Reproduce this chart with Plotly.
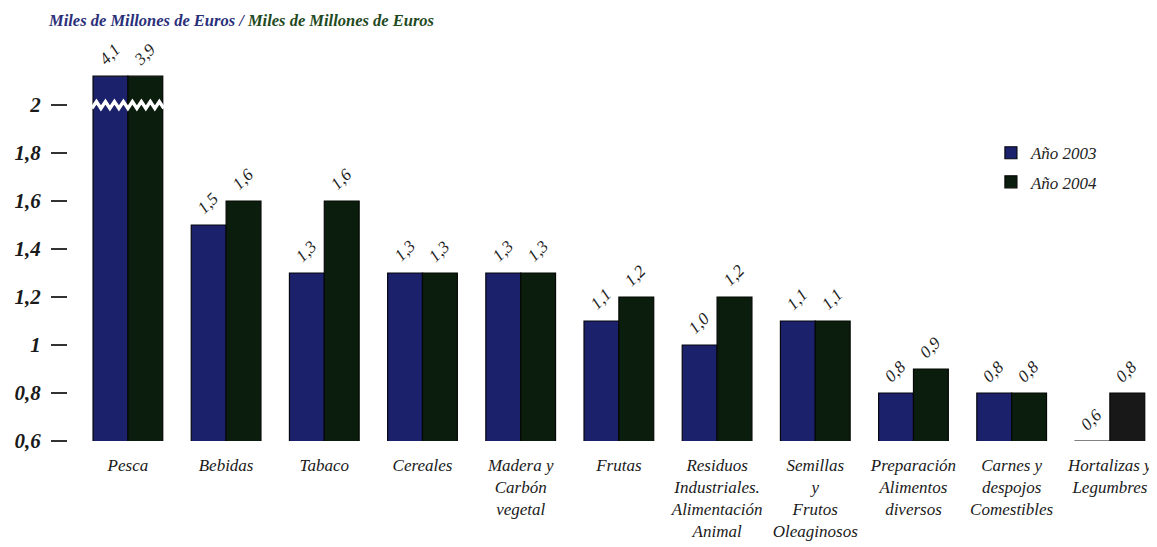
import numpy as np
import plotly.graph_objects as go

categories = ["Pesca", "Bebidas", "Tabaco", "Cereales", "Madera y<br>Carbón<br>vegetal", "Frutas",
              "Residuos<br>Industriales.<br>Alimentación<br>Animal", "Semillas<br>y<br>Frutos<br>Oleaginosos",
              "Preparación<br>Alimentos<br>diversos", "Carnes y<br>despojos<br>Comestibles", "Hortalizas y<br>Legumbres"]
values_2003 = [4.1, 1.5, 1.3, 1.3, 1.3, 1.1, 1.0, 1.1, 0.8, 0.8, 0.6]
values_2004 = [3.9, 1.6, 1.6, 1.3, 1.3, 1.2, 1.2, 1.1, 0.9, 0.8, 0.8]
tick_vals = [0.6, 0.8, 1.0, 1.2, 1.4, 1.6, 1.8, 2.0]
tick_text = ["0,6", "0,8", "1", "1,2", "1,4", "1,6", "1,8", "2"]

AXIS_CAP = 2.12   # values above this are drawn with a broken bar
Y_RANGE = [0.6, 2.15]
BAR_HALF = 0.178

FONT = "Liberation Serif"
C2003 = "#1b216a"
C2004 = "#0b1d0d"
C_HORT = "#181818"

x = np.arange(len(categories))
d03 = np.minimum(values_2003, AXIS_CAP)
d04 = np.minimum(values_2004, AXIS_CAP)

col04 = [C2004] * len(categories)
col04[-1] = C_HORT

fig = go.Figure()
fig.add_trace(go.Bar(x=x, y=d03, name="Año 2003", marker=dict(color=C2003, line=dict(color="#05060f", width=1.2)),
                     legendgroup="a"))
fig.add_trace(go.Bar(x=x, y=d04, name="Año 2004", marker=dict(color=col04, line=dict(color="#050805", width=1.2)),
                     legendgroup="b"))

# break marks on bars exceeding the cap
for i, (a, b) in enumerate(zip(values_2003, values_2004)):
    if a > AXIS_CAP or b > AXIS_CAP:
        n = 17
        zx = np.linspace(i - 2 * BAR_HALF - 0.01, i + 2 * BAR_HALF + 0.01, n)
        zy = 2.0 + np.where(np.arange(n) % 2 == 0, -0.014, 0.014)
        fig.add_trace(go.Scatter(x=zx, y=zy, mode="lines", line=dict(color="white", width=3.5),
                                 showlegend=False, hoverinfo="skip"))

# value labels
def fmt(v):
    return f"{v:.1f}".replace(".", ",")

for i in range(len(categories)):
    for off, v, dv in ((-BAR_HALF, values_2003[i], d03[i]), (BAR_HALF, values_2004[i], d04[i])):
        fig.add_annotation(x=i + off, y=dv, text=fmt(v), textangle=-45, showarrow=False,
                           yshift=22, xshift=-1,
                           font=dict(family=FONT, size=17, style="italic", color="#1e1e1e"))

# title
fig.add_annotation(xref="paper", yref="paper", x=-0.02, y=1.162, xanchor="left", yanchor="top",
                   showarrow=False,
                   text="<span style='color:#2b2f7a'>Miles de Millones de Euros /</span> "
                        "<span style='color:#1f4a1f'>Miles de Millones de Euros</span>",
                   font=dict(family=FONT, size=16.5, style="italic", weight="bold"))

# page body has an 8px margin: size figure so the plot lands where the reference has it
fig.update_layout(
    width=1149, height=539,
    margin=dict(l=60, r=0, t=61, b=106, autoexpand=False),
    paper_bgcolor="white", plot_bgcolor="white",
    barmode="group", bargap=0.29, bargroupgap=0,
    showlegend=True,
    legend=dict(x=0.8475, y=0.822, xanchor="left", yanchor="top", tracegroupgap=4,
                font=dict(family=FONT, size=17, style="italic", color="#222222"),
                bgcolor="rgba(0,0,0,0)"),
    font=dict(family=FONT, color="#222222"),
)
fig.update_xaxes(range=[-0.61, 10.48], tickmode="array", tickvals=x, ticktext=categories,
                 showgrid=False, zeroline=False, showline=False, ticks="", automargin=False,
                 ticklabelstandoff=12,
                 tickfont=dict(family=FONT, size=17, style="italic", color="#1a1a1a"))
fig.update_yaxes(range=Y_RANGE, tickmode="array", tickvals=tick_vals, ticktext=tick_text,
                 showgrid=False, zeroline=False, showline=False, automargin=False,
                 ticks="outside", ticklen=16, tickwidth=2, tickcolor="#333333",
                 ticklabelstandoff=6,
                 tickfont=dict(family=FONT, size=21, style="italic", weight="bold", color="#1a1a1a"))

fig.write_html("out.html")
